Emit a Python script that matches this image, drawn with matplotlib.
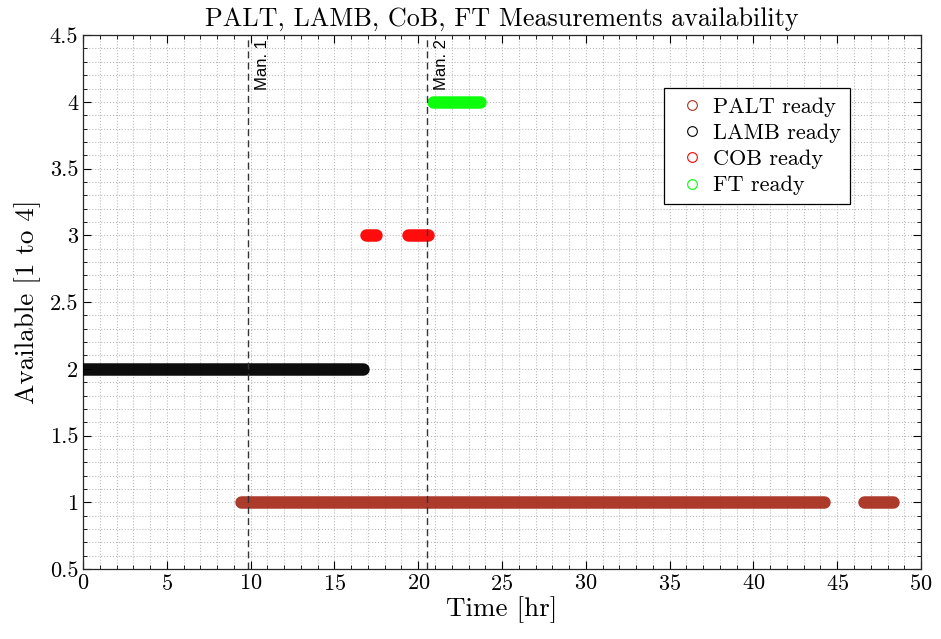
import matplotlib
matplotlib.use("Agg")
import matplotlib.pyplot as plt
from matplotlib.lines import Line2D
from matplotlib.ticker import MultipleLocator, FormatStrFormatter

plt.rcParams['font.family'] = 'serif'
plt.rcParams['font.serif'] = ['cmr10', 'DejaVu Serif']
plt.rcParams['axes.formatter.use_mathtext'] = True
plt.rcParams['mathtext.fontset'] = 'cm'

# availability segments (start hr, end hr) per measurement
palt_segments = [(9.4, 44.2), (46.6, 48.3)]
lamb_segments = [(0.0, 16.7)]
cob_segments = [(16.9, 17.5), (19.4, 20.6)]
ft_segments = [(20.9, 23.7)]

levels = [1, 2, 3, 4]
names = ["PALT ready", "LAMB ready", "COB ready", "FT ready"]
colors = [(0.66, 0.19, 0.12), "black", (1.0, 0.0, 0.0), (0.0, 1.0, 0.0)]

maneuver_times = [9.85, 20.55]
maneuver_labels = ["Man. 1", "Man. 2"]

fig = plt.figure(figsize=(9.41, 6.39), dpi=100)
ax = fig.add_axes([0.0882, 0.1095, 0.8906, 0.8355])

all_segments = [palt_segments, lamb_segments, cob_segments, ft_segments]
for segs, lvl, c in zip(all_segments, levels, colors):
	for s, e in segs:
		ax.plot([s, e], [lvl, lvl], color=c, lw=9, solid_capstyle='round', alpha=0.95, zorder=3)

for t, lab in zip(maneuver_times, maneuver_labels):
	ax.axvline(t, color='#333333', ls=(0, (5, 3)), lw=1.0, zorder=4)
	ax.text(t + 0.4, 4.47, lab, rotation=90, ha='left', va='top', fontsize=12,
		family='Liberation Sans', zorder=5)

ax.set_xlim(0, 50)
ax.set_ylim(0.5, 4.5)
ax.xaxis.set_major_locator(MultipleLocator(5))
ax.xaxis.set_minor_locator(MultipleLocator(1))
ax.yaxis.set_major_locator(MultipleLocator(0.5))
ax.yaxis.set_minor_locator(MultipleLocator(0.1))
ax.yaxis.set_major_formatter(FormatStrFormatter('%g'))
ax.grid(which='both', color='#bbbbbb', ls=':', lw=0.8)
ax.set_axisbelow(True)
ax.tick_params(which='both', direction='in', top=True, right=True, labelsize=16)
ax.tick_params(which='major', length=6)
ax.tick_params(which='minor', length=3)
for sp in ax.spines.values():
	sp.set_color('#262626')
	sp.set_linewidth(0.9)

ax.set_xlabel("Time [hr]", fontsize=19.5, labelpad=2)
ax.set_ylabel("Available [1 to 4]", fontsize=19.5, labelpad=6)
ax.set_title("PALT, LAMB, CoB, FT Measurements availability", fontsize=18.8, pad=7)

handles = [Line2D([], [], ls='none', marker='o', markerfacecolor='none', markeredgecolor=c,
		markersize=7, markeredgewidth=0.8) for c in colors]
leg = ax.legend(handles, names, loc='upper right', bbox_to_anchor=(0.923, 0.913),
	fontsize=16, fancybox=False, framealpha=1, edgecolor='black',
	handletextpad=0.1, borderpad=0.4, labelspacing=0.3, handlelength=1.7, borderaxespad=0.3)
leg.get_frame().set_linewidth(0.9)

fig.savefig("out.png", dpi=100)
